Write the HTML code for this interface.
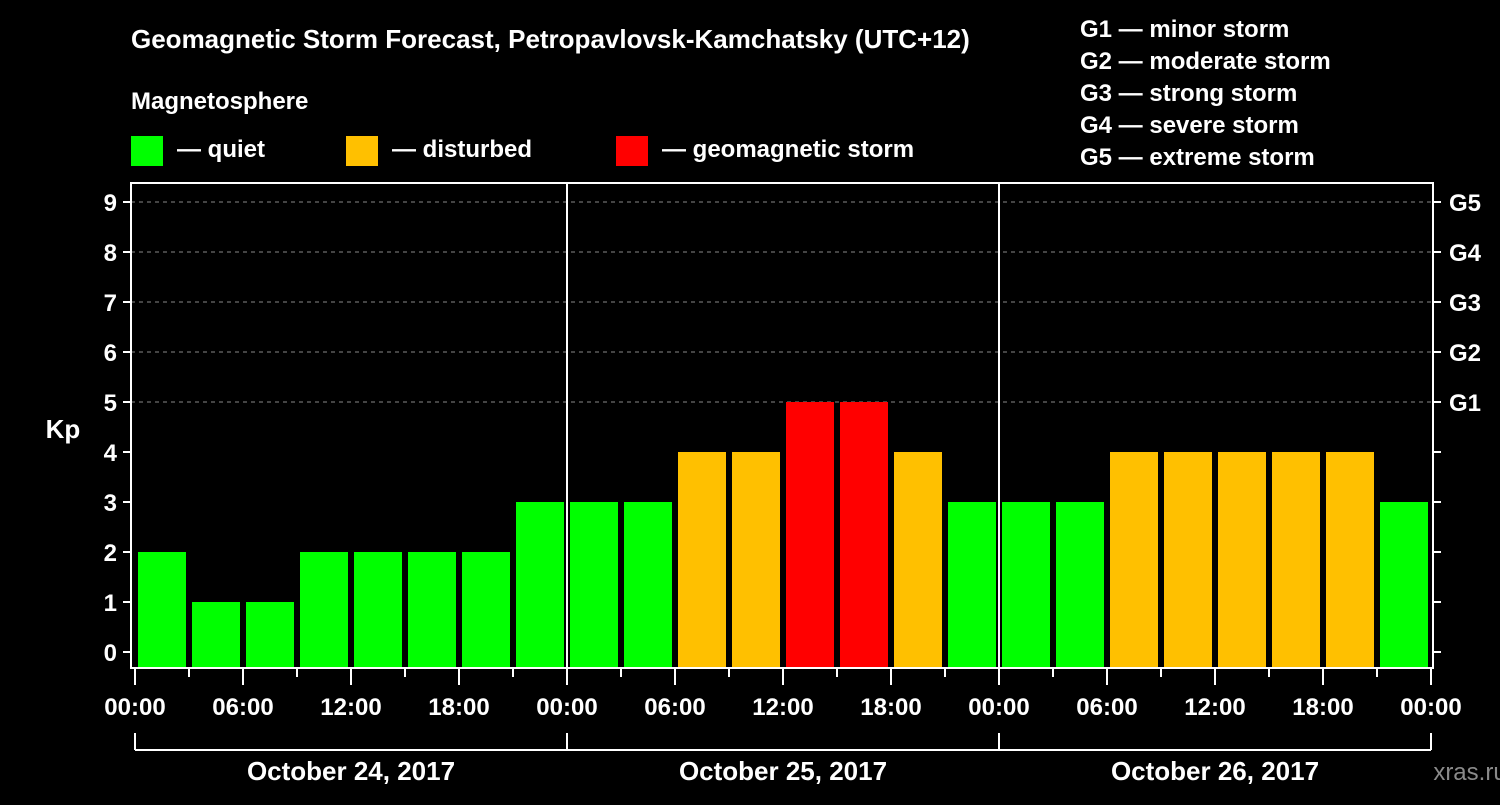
<!DOCTYPE html>
<html><head><meta charset="utf-8"><style>
body{margin:0;background:#000;width:1500px;height:800px;overflow:hidden}
svg text{font-family:"Liberation Sans",sans-serif;font-weight:bold;fill:#fff}
</style></head><body>
<svg id="c" width="1500" height="800">
<text x="131" y="48" font-size="26">Geomagnetic Storm Forecast, Petropavlovsk-Kamchatsky (UTC+12)</text>
<text x="131" y="109" font-size="24">Magnetosphere</text>
<g>
<rect x="131" y="136" width="32" height="30" fill="#00ff00"/>
<text x="177" y="157" font-size="24">— quiet</text>
<rect x="346" y="136" width="32" height="30" fill="#ffc000"/>
<text x="392" y="157" font-size="24">— disturbed</text>
<rect x="616" y="136" width="32" height="30" fill="#ff0000"/>
<text x="662" y="157" font-size="24">— geomagnetic storm</text>
</g>
<g font-size="24">
<text x="1080" y="37">G1 — minor storm</text>
<text x="1080" y="69">G2 — moderate storm</text>
<text x="1080" y="101">G3 — strong storm</text>
<text x="1080" y="133">G4 — severe storm</text>
<text x="1080" y="165">G5 — extreme storm</text>
</g>
<text x="63" y="438" font-size="26" text-anchor="middle">Kp</text>
<text x="1470" y="780" font-size="24" text-anchor="middle" fill="#888" style="fill:#8a8a8a;font-weight:normal">xras.ru</text>
<g id="grid"></g><g id="bars"></g><g id="axes"></g>
</svg>
<script>
const kpValues=[2,1,1,2,2,2,2,3, 3,3,4,4,5,5,4,3, 3,3,4,4,4,4,4,3];
const dayLabels=["October 24, 2017","October 25, 2017","October 26, 2017"];
const timeLabels=["00:00","06:00","12:00","18:00"];
const gLabels=["G1","G2","G3","G4","G5"];
const NS="http://www.w3.org/2000/svg";
const X0=135,DAY=432,SLOT=54,L=131,R=1433,T=183,B=668;
const y=v=>652-v*50;
const x=i=>X0+i*SLOT;
function mk(t,a,p){const e=document.createElementNS(NS,t);for(const k in a)e.setAttribute(k,a[k]);p.appendChild(e);return e;}
const grid=document.getElementById('grid'),bars=document.getElementById('bars'),axes=document.getElementById('axes');
for(let v=5;v<=9;v++){const l=mk('line',{x1:L,x2:R,y1:y(v),y2:y(v),stroke:'#888','stroke-dasharray':'4,4','stroke-width':1},grid);

}
kpValues.forEach((v,i)=>{const c=v>=5?'#ff0000':v>=4?'#ffc000':'#00ff00';
const r=mk('rect',{x:x(i)+3,y:y(v),width:48,height:B-y(v),fill:c},bars);

});
const f=mk('rect',{x:L,y:T,width:R-L,height:B-T,fill:'none',stroke:'#fff','stroke-width':2},axes);


for(let d=1;d<dayLabels.length;d++){const l=mk('line',{x1:X0+d*DAY,x2:X0+d*DAY,y1:T,y2:B,stroke:'#fff','stroke-width':2},axes);

}
for(let v=0;v<=9;v++){
mk('line',{x1:L-8,x2:L,y1:y(v),y2:y(v),stroke:'#fff','stroke-width':2},axes);
mk('line',{x1:R,x2:R+8,y1:y(v),y2:y(v),stroke:'#fff','stroke-width':2},axes);
const t=mk('text',{x:L-14,y:y(v)+9,'font-size':24,'text-anchor':'end'},axes);t.textContent=v;

}
gLabels.forEach((g,i)=>{const t=mk('text',{x:1449,y:y(5+i)+9,'font-size':24},axes);t.textContent=g;

});
for(let i=0;i<=kpValues.length;i++){const maj=i%2==0;
mk('line',{x1:x(i),x2:x(i),y1:B,y2:B+(maj?17:9),stroke:'#fff','stroke-width':2},axes);
if(maj){const t=mk('text',{x:x(i),y:715,'font-size':24,'text-anchor':'middle'},axes);t.textContent=timeLabels[(i/2)%4];

}}
mk('line',{x1:X0,x2:X0+3*DAY,y1:750,y2:750,stroke:'#fff','stroke-width':2},axes);
for(let d=0;d<=dayLabels.length;d++)mk('line',{x1:X0+d*DAY,x2:X0+d*DAY,y1:733,y2:750,stroke:'#fff','stroke-width':2},axes);
dayLabels.forEach((s,d)=>{const t=mk('text',{x:X0+d*DAY+DAY/2,y:780,'font-size':26,'text-anchor':'middle'},axes);t.textContent=s;

});
</script>
</body></html>
